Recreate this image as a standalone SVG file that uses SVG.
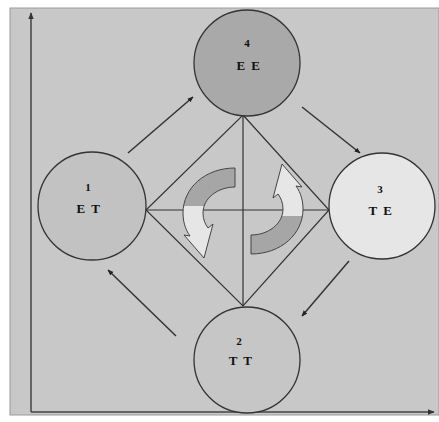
<svg xmlns="http://www.w3.org/2000/svg" width="439" height="422" viewBox="0 0 439 422">
<style>
.node{stroke:#333;stroke-width:1.3}
.lbl{font-family:"Liberation Serif",serif;font-weight:bold;font-size:13px;fill:#111;text-anchor:middle;letter-spacing:1.5px}
.num{font-family:"Liberation Serif",serif;font-weight:bold;font-size:11px;fill:#111;text-anchor:middle}
.ln{stroke:#333;stroke-width:1.2;fill:none}
.conn{stroke:#333;stroke-width:1.5;fill:none;marker-end:url(#ah)}
.ax{stroke:#444;stroke-width:1.5;fill:none;marker-end:url(#axh)}
.curv{stroke:#444;stroke-width:1;fill:url(#split)}
</style>
<defs>
<marker id="ah" viewBox="0 0 10 10" refX="9" refY="5" markerWidth="6" markerHeight="6" orient="auto" markerUnits="userSpaceOnUse"><path d="M0,1 L10,5 L0,9 Z" fill="#222"/></marker>
<marker id="axh" viewBox="0 0 10 10" refX="9" refY="5" markerWidth="7" markerHeight="7" orient="auto" markerUnits="userSpaceOnUse"><path d="M0,1 L10,5 L0,9 Z" fill="#333"/></marker>
<linearGradient id="split" x1="0" y1="0" x2="0" y2="1">
<stop offset="0.42" stop-color="#a6a6a6"/>
<stop offset="0.42" stop-color="#e6e6e6"/>
</linearGradient>
</defs>
<rect x="0" y="0" width="439" height="422" fill="#ffffff"/>
<rect x="10" y="8" width="429" height="407" fill="#c8c8c8" stroke="#9a9a9a" stroke-width="1"/>
<g id="axes">
<path class="ax" d="M31,412 L31,13"/>
<path class="ax" d="M31,412 L434,412"/>
</g>
<g id="diamond">
<path class="ln" d="M243,115 L329,210 L243,306 L146,210 Z"/>
<path class="ln" d="M146,210 L329,210"/>
<path class="ln" d="M243,115 L243,306"/>
</g>
<g id="connectors">
<path class="conn" d="M128,153 L193,97"/>
<path class="conn" d="M302,107 L360,153"/>
<path class="conn" d="M349,261 L302,316"/>
<path class="conn" d="M176,336 L108,270"/>
</g>
<g id="cycle">
<path class="curv" d="M235,168 L235,187 C218,187 203,198 203,213 C203,219 205,224 208,228 L213,224 L204,258 L184,235 L190,236 C185,229 183,221 183,213 C183,188 205,168 235,168 Z"/>
<path class="curv" transform="rotate(180 243 211)" d="M235,168 L235,187 C218,187 203,198 203,213 C203,219 205,224 208,228 L213,224 L204,258 L184,235 L190,236 C185,229 183,221 183,213 C183,188 205,168 235,168 Z"/>
</g>
<g id="node4">
<circle class="node" cx="247" cy="63" r="53" fill="#a9a9a9"/>
<text class="num" x="247" y="47">4</text>
<text class="lbl" x="249" y="70">E E</text>
</g>
<g id="node1">
<circle class="node" cx="92" cy="206" r="54" fill="#c2c2c2"/>
<text class="num" x="88" y="191">1</text>
<text class="lbl" x="89" y="213">E T</text>
</g>
<g id="node3">
<circle class="node" cx="382" cy="206" r="53" fill="#e6e6e6"/>
<text class="num" x="380" y="193">3</text>
<text class="lbl" x="381" y="215">T E</text>
</g>
<g id="node2">
<circle class="node" cx="247" cy="360" r="53" fill="#c6c6c6"/>
<text class="num" x="239" y="345">2</text>
<text class="lbl" x="241" y="365">T T</text>
</g>
</svg>
